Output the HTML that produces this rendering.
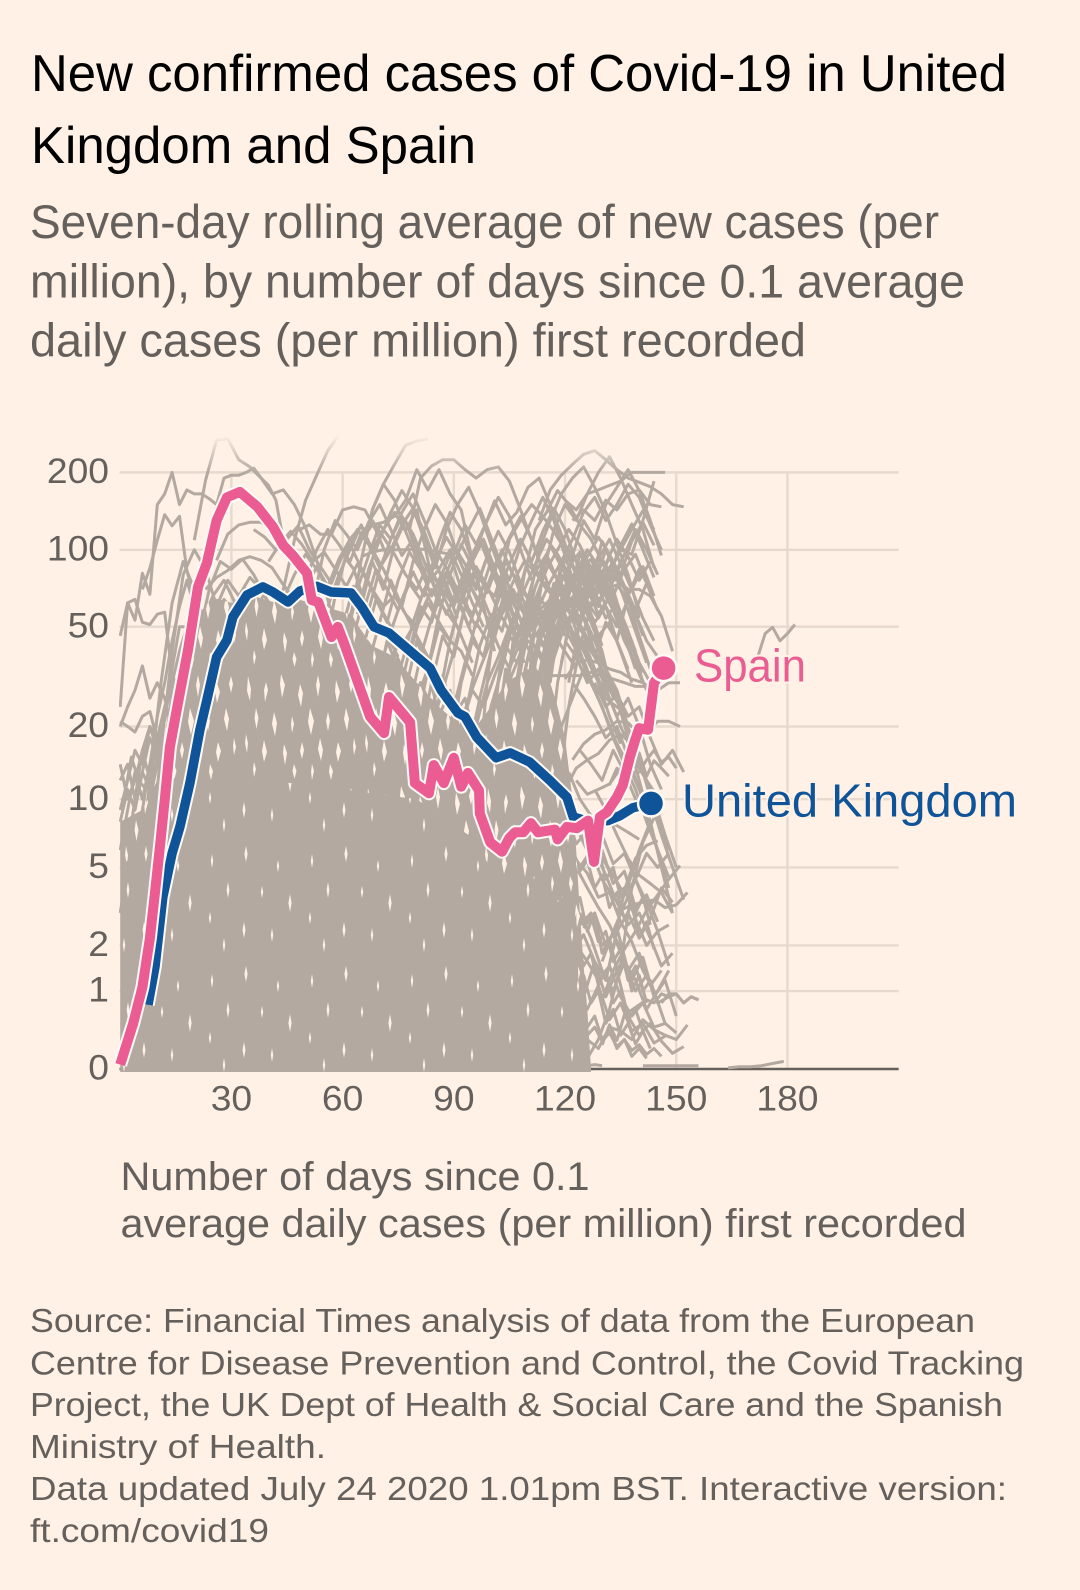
<!DOCTYPE html>
<html lang="en">
<head>
<meta charset="utf-8">
<title>New confirmed cases of Covid-19 in United Kingdom and Spain</title>
<style>
html,body{margin:0;padding:0;background:#fff1e5;}
body{width:1080px;height:1590px;overflow:hidden;}
svg{display:block;font-family:"Liberation Sans",sans-serif;}
.title{font-size:52px;fill:#000;}
.sub{font-size:47px;fill:#66605c;}
.axis-title{font-size:40px;fill:#66605c;}
.foot{font-size:33.5px;fill:#66605c;}
.tick{font-size:35px;fill:#66605c;}
</style>
</head>
<body>
<svg id="chart" xmlns="http://www.w3.org/2000/svg" width="1080" height="1590" viewBox="0 0 1080 1590">
  <defs>
    <pattern id="holes-large" patternUnits="userSpaceOnUse" width="120" height="112">
      <path fill="#fff1e5" d="M8 4l3 13-1 12-3-10z M26 10l2 8-3 12-1-12z M41 2l4 11-3 13-2-14z M60 12l3 9-2 14-3-12z M78 3l2 10-2 12-2-12z M96 8l4 12-3 11-2-12z M111 4l2 8-2 9-2-9z M16 36l2.5 10-2 11-2-11z M34 40l3 11-2 13-3-12z M52 44l2 8-2 9-1-9z M70 36l4 13-3 14-3-13z M88 40l2 9-2 10-2-10z M106 36l3 11-2 12-3-12z M6 62l2 9-1 10-2-10z M24 68l3 12-3 10-2-11z M44 72l3 9-2 12-2-12z M62 70l2 8-2 9-2-8z M80 66l3 12-2 11-3-12z M98 70l3 9-3 11-2-10z M114 66l2 9-2 8-1-9z M14 90l2 7-2 8-1-8z M54 92l2.5 7-2 8-2-8z M72 92l2 7-2 9-1-8z M90 92l3 7-2 9-2-8z"/>
    </pattern>
    <pattern id="holes-small" patternUnits="userSpaceOnUse" width="100" height="120">
      <path fill="#fff1e5" d="M12 14l1.2 7-1.2 7-1.2-7z M46 6l1.6 8-1.6 8-1.6-8z M78 20l1.2 6-1.2 6-1.2-6z M28 42l1.4 8-1.4 8-1.4-8z M62 46l1.2 6-1.2 6-1.2-6z M90 54l1.6 9-1.6 9-1.6-9z M10 72l1.2 6-1.2 6-1.2-6z M44 82l1.5 8-1.5 8-1.5-8z M72 88l1.2 7-1.2 7-1.2-7z M24 98l1.2 7-1.2 7-1.2-7z"/>
    </pattern>
    <linearGradient id="top-fade" x1="0" y1="0" x2="0" y2="1">
      <stop offset="0.1" stop-color="#fff1e5" stop-opacity="1"/>
      <stop offset="1" stop-color="#fff1e5" stop-opacity="0"/>
    </linearGradient>
    <clipPath id="plot-clip"><rect x="119" y="430" width="790" height="645"/></clipPath>
  </defs>

  <rect x="0" y="0" width="1080" height="1590" fill="#fff1e5"/>

  <text class="title" x="31" y="91" textLength="976" lengthAdjust="spacingAndGlyphs">New confirmed cases of Covid-19 in United</text>
  <text class="title" x="31" y="163" textLength="445" lengthAdjust="spacingAndGlyphs">Kingdom and Spain</text>
  <text class="sub" x="30" y="238" textLength="909" lengthAdjust="spacingAndGlyphs">Seven-day rolling average of new cases (per</text>
  <text class="sub" x="30" y="297.5" textLength="935" lengthAdjust="spacingAndGlyphs">million), by number of days since 0.1 average</text>
  <text class="sub" x="30" y="356.5" textLength="776" lengthAdjust="spacingAndGlyphs">daily cases (per million) first recorded</text>

  <g id="grid"></g>
  <g id="ticks"></g>
  <g id="marks" clip-path="url(#plot-clip)"></g>
  <rect x="115" y="430" width="800" height="42" fill="url(#top-fade)"/>
  <g id="highlights"></g>

  <text x="694" y="681.5" font-size="46" fill="#eb5c92" stroke="#fff1e5" stroke-width="4" paint-order="stroke" textLength="112" lengthAdjust="spacingAndGlyphs">Spain</text>
  <text x="682" y="816.5" font-size="46" fill="#0f5499" stroke="#fff1e5" stroke-width="4" paint-order="stroke" textLength="335" lengthAdjust="spacingAndGlyphs">United Kingdom</text>

  <text class="axis-title" x="120.5" y="1190" textLength="469" lengthAdjust="spacingAndGlyphs">Number of days since 0.1</text>
  <text class="axis-title" x="120.5" y="1237" textLength="846" lengthAdjust="spacingAndGlyphs">average daily cases (per million) first recorded</text>

  <text class="foot" x="30" y="1332" textLength="945" lengthAdjust="spacingAndGlyphs">Source: Financial Times analysis of data from the European</text>
  <text class="foot" x="30" y="1374.5" textLength="994" lengthAdjust="spacingAndGlyphs">Centre for Disease Prevention and Control, the Covid Tracking</text>
  <text class="foot" x="30" y="1416" textLength="973" lengthAdjust="spacingAndGlyphs">Project, the UK Dept of Health &amp; Social Care and the Spanish</text>
  <text class="foot" x="30" y="1458" textLength="296" lengthAdjust="spacingAndGlyphs">Ministry of Health.</text>
  <text class="foot" x="30" y="1500" textLength="977" lengthAdjust="spacingAndGlyphs">Data updated July 24 2020 1.01pm BST. Interactive version:</text>
  <text class="foot" x="30" y="1542" textLength="239" lengthAdjust="spacingAndGlyphs">ft.com/covid19</text>
</svg>

<script>
const yTickValues = [200, 100, 50, 20, 10, 5, 2, 1, 0];
const yTickLabels = ['200', '100', '50', '20', '10', '5', '2', '1', '0'];
const xTickValues = [30, 60, 90, 120, 150, 180];
const xTickLabels = ['30', '60', '90', '120', '150', '180'];
const xMaxDay = 210;

const spainDays = [0,3.5,6,8,9.4,10.7,12,13.4,15.6,18.3,21,23.4,26,28.8,32.3,37,41.2,44,46.6,50.4,51.7,53.4,57,58.7,60.4,67.4,71.2,72.5,78.2,79.5,83.3,84.6,87.3,90,92,93.8,96.8,97,99.8,103,105,106.5,108.7,110.8,112.7,117.3,118,120.5,123.2,126.2,127.8,129.4,131.3,134,135.6,137.5,138.9,140,142.4,144,146.6];
const spainValues = [0.04,0.5,1.07,2.2,3.8,6.2,9.9,16.5,24.9,40.4,71.6,88.8,130,160,168,147,123,104,95,81,63.6,62.5,45.5,49.9,43,21.9,18.8,26.3,20.8,11.7,10.6,13.9,11.7,14.9,11.3,12.9,10.9,8.7,6.5,5.9,6.8,7.2,7.2,7.9,7.2,7.4,6.7,7.6,7.5,8.1,5.3,8.4,8.8,10.2,11.5,15,17.6,19.7,19.4,29.9,34.3];
const ukDays = [7.5,9.4,11.5,14,16.1,18.8,21.5,23.4,26,28.8,30.4,34.2,38.5,41.2,45.3,48.5,53,56.9,62.3,65.2,68.5,72.5,83.6,86.6,91.1,93,96.2,101.4,105.2,110.5,115.9,120.5,122.2,126.7,131.6,134.8,138.3,143.2];
const ukValues = [0.77,1.48,3.6,5.8,7.6,11.7,19.4,25.6,37.9,44.3,54.6,66.6,71.6,68.4,62.5,69,72,68.4,67.8,59.7,49.9,47.2,34.3,28,22.7,21.9,18.1,14.9,15.6,14.3,12,10.2,8.4,8,8.1,8.5,9.2,9.6];

const denseSolidDays = [0,5,8,12,20,40,60,80,94,100,106,112,118,121,122,123,123.6,124.5,125,126,127];
const denseSolidValues = [5,6,9,12,12,12,11,10,7,5,3.6,4.5,3.4,4,2.5,3,1.2,1.5,0.5,0.7,0];
const denseWebDays = [0,6,10,12,14,18,20,22,25,30,36,42,48,55,62,68,74,80,86,92,96,100,104,110,116,118,120,122,123,124,125,126,127];
const denseWebValues = [8,9,12,18,30,36,44,58,65,62,66,62,64,60,56,42,38,30,24,20,20,24,30,34,30,24,18,10,6,3,1.5,0.7,0];

const greyLinesStep2 = [
  [0,[24,62,53,81,67,150,165,200,150,171,165,165,158,150,190,195,195,200,208,190,178,156,109]],
  [0,[46,62,64,52,51,56,57,32,28,26,19,15,12]],
  [6,[70,85,109,137,124,135,83,64,40,28]],
  [0,[20,24,28,35,26,30,26,19,15,12]],
  [0,[21,20,19,22,23,17.6,13,10]],
  [12,[21,34,50,50,38,26,16]],
  [172,[38,47,49.7,44,47,51]],
  [146,[0.8,0.95,0.95,0.8,0.9,0.85]],
  [130,[0.24,0.48,0.29,0.62,0.69,0.77,0.85,0.8,0.95,0.9,0.95,0.8,0.9,0.85]],
  [134,[9.9,11.5,13.5,15.6,12.5,14.5,13.5,12.5]],
  [136,[11.5,13,13,14.6,16,14.3,15,13.5]],
  [132,[11.5,13.5,11.5,15,13.5,12,10.8]],
  [0,[12,14,10,16,20,18,24,30,26,18,14]],
  [0,[9,12,16,14,20,16,24,22,28,20,14]],
  [0,[14,10,12,16,12,18,14,20,26,34,24]],
  [2,[6,10,13,18,15,22,30,40,50,38]],
  [4,[5,9,14,22,30,44,60,76,60,42]],
  [124,[0.02,0.03,0.04,0.03]],
  [0,[8,11,9,13,11,15,12,17,21,25,20]],
  [0,[6,9,13,10,14,18,15,13,18]],
  [0,[3,5,8,6,10,14,12,20]],
  [1,[10,15,12,11,16,13,19,17,24]],
  [120,[4,3,3.6,2.4,3,1.8,2.2,1.4,1.7,1,1.3,0.8]],
  [119,[2.4,1.9,2.2,1.5,1.8,1.1,1.4,0.8,1,0.55,0.7,0.4]],
  [121,[1.4,1.1,1.3,0.8,1,0.5,0.7,0.35,0.5,0.25,0.4,0.2]],
  [122,[6,4.8,5.4,4,4.6,3.2,3.8,2.8,3.3,2.2,2.7,1.9]],
  [120,[0.8,0.6,0.75,0.45,0.6,0.3,0.42,0.2,0.3,0.12,0.2,0.1]],
  [123,[3.2,2.6,2.9,2.1,2.4,1.6,1.9,1.2,1.5,1,1.2,0.8]],
  [121,[8,6.4,7,5.4,6,4.4,5,3.6,4.2,3,3.6,2.6]],
  [124,[0.5,0.35,0.45,0.28,0.38,0.22,0.3,0.18,0.24,0.14,0.2,0.12]]
];

const greyLinesStep3 = [
  [20,[109,186,267,270,224,210,190,165,171,150,122,91,64,44,30,20,12]],
  [26,[91,115,125,128,128,119,105,98,83,70,53,37,26]],
  [23,[70,78,83,91,94,91,85,73,64,44,31,20]],
  [35,[26,40,58,70,109,156,195,243,280]],
  [62,[53,91,143,180,215,255,265,270]],
  [78,[119,190,212,224,224,205,190,205,210,185,143,109,83]],
  [65,[109,125,128,135,156,205,171,205,165,143,91,60,40]],
  [65,[94,98,100,100,100,101,100,98,96,70,53]],
  [68,[143,180,156,119,143,91,60]],
  [120,[76,70,80,91,83,100,96,130,185]],
  [113,[130,171,195,215,235,243,224,205,190,183,176,165,150,147]],
  [120,[156,143,165,171,178,185,200,200,200,200]],
  [122,[130,143,130,156,143,165,171,150,147]],
  [110,[53,58,64,70,76,83,87,78,76,70,70,66,55,40]],
  [113,[44,53,64,76,91,83,70,73,64,55]],
  [120,[31,36,37,36,34,33,31,30,28]],
  [115,[32,32,32,32,33,32,31,30,29,29,28,30,30]],
  [125,[37,28,26,24,22]],
  [130,[0.85,1.4,1.9,2.4,3.1,3.7,4.4,5.1]],
  [135,[3.1,3.3,3.4,3.5,3.2,3.3,3.8]],
  [130,[1.6,2.4,3.3,4.4,5.8,5,5.8]],
  [133,[1.9,3.9,5.5,6.3,6.6]],
  [125,[0.9,1.6,1.2,2.4,3,2.2,2.8,4,3.4]],
  [124,[3,2.2,1.4,1,1.6,1.2,0.7,1,1.4]],
  [123,[5,4,3.2,2.6,1.9,1.2,1.7,0.9,1.2,0.6]],
  [120,[6,5.4,4.7,3.6,3.8,2.7,2.1,1.4,1,0.5,0.38]],
  [126,[0.3,0.2,0.45,0.4,0.3,0.55,0.42,0.35,0.3,0.48]],
  [122,[1.8,2.3,1.6,0.9,1.4,0.6,0.35,0.5,0.28,0.15,0.22]],
  [127,[6.5,5.5,4.6,3.7,4.4,3.4,2.4,2.6]],
  [128,[11,9,7,5.5,4.6,4.2,3.8,3]],
  [126,[0.1,0.3,0.7,1.5,4,6.5,8.3]],
  [131,[8.3,7.7,7.2,6.7]],
  [134,[3,4.1,6,8]],
  [120,[11,13.5,14.6,15.5,17.6,18.6,17]],
  [123,[12,10.5,11,11.6,13.5,13.5]],
  [122,[14.6,17,18.6,19.4,21,20.7,18.6]],
  [142,[19,21,21,20]],
  [85,[2,5,9,16,26,40,58,75,90,82,70,64,50,38,30]],
  [88,[1,3,7,14,24,34,52,70,88,110,96,80,64,52,40,26]],
  [92,[1.5,4,9,18,30,46,60,78,70,60,72,55,44,34,26,20]],
  [94,[2,6,14,26,40,52,64,84,100,120,104,85,70,58,46,35]],
  [96,[3,9,20,34,44,58,50,66,80,70,58,46,52,40,30]],
  [90,[5,10,20,30,38,50,62,50,42,52,66,48,38,30,22,17]],
  [98,[1,4,12,24,38,60,75,90,76,64,52,60,44,34]],
  [100,[3,10,24,42,60,50,70,86,98,84,72,58,44,36,28]],
  [102,[2,8,18,36,52,46,64,60,76,64,70,56,42,33]],
  [104,[4,14,30,46,38,58,72,66,88,76,60,44,36,30]],
  [95,[6,12,18,28,36,44,40,34,46,58,48,40,34,28,20]],
  [106,[3,12,28,44,58,70,84,92,72,60,50,38]],
  [108,[5,18,34,52,66,80,94,112,96,78,62,46]],
  [82,[3,6,11,18,26,34,44,56,66,56,46,54,64,52,40,30,24]],
  [86,[8,14,20,28,24,32,42,36,48,58,50,42,36,44,34,26]],
  [110,[6,20,40,58,74,86,68,54,62,48,36]],
  [112,[8,26,46,64,54,70,82,66,52,40]],
  [105,[14,22,34,30,42,52,46,62,54,66,52,44,30]],
  [115,[12,30,50,70,60,76,90,72,56,44,38]],
  [118,[10,24,42,60,74,66,84,96,74,58]],
  [93,[3,10,30,70,110,130,150,135,118,100,80,60,44]],
  [100,[6,18,44,80,120,140,170,150,125,110,90,70,50]],
  [104,[8,30,60,100,130,165,190,210,175,140,105,80,56]],
  [108,[10,40,80,120,150,130,165,200,230,190,150,120,85]],
  [113,[20,50,90,110,140,160,130,150,180,160,125,100]],
  [116,[30,60,95,130,110,150,175,205,170,130,95]],
  [58,[30,48,70,95,125,110,140,165,130,100,85,70,90,110,84,66,50,36]],
  [62,[40,60,90,70,105,130,98,76,108,140,120,90,110,85,60,42]],
  [64,[56,84,110,140,170,145,110,85,120,150,175,140,105,80,56]],
  [66,[44,64,52,76,98,84,66,82,104,88,72,94,78,60,46]],
  [60,[50,72,60,84,70,58,74,64,82,70,60,78,66,54,42,34]],
  [70,[34,48,64,82,66,90,112,95,75,60,78,100,80,62,46]],
  [72,[30,44,38,56,70,60,52,68,86,72,58,48,62,44,36]],
  [75,[26,40,60,52,74,96,125,105,130,160,135,100,76]],
  [78,[24,38,54,80,62,84,70,94,118,98,74,60,48]],
  [80,[20,34,50,44,64,56,72,66,90,76,64,52,40]],
  [83,[14,26,44,66,90,120,155,125,140,175,190,150,115,88,66]],
  [50,[70,86,72,90,105,85,70,60,66,56,50,62,52,44,40,32]],
  [47,[60,76,100,120,105,90,116,130,112,96,80,70,88,72,58,46,36]],
  [44,[64,80,96,84,72,92,110,124,100,84,68,56,46,38,30]],
  [52,[62,100,130,115,100,128,150,120,95,110,90,70,82,66,50,40]],
  [55,[40,66,96,120,105,85,100,125,145,118,90,70,54]],
  [40,[90,105,118,105,90,98,84,72,88,74,60,50,42,50,38,30]],
  [36,[120,112,100,110,124,100,86,74,96,84,62,52,46,38]],
  [48,[119,125,115,115,143,147,143,119,94]],
  [118,[60,46,38,30,24,18,14,11,8,6,4.5]],
  [120,[44,38,30,34,26,20,16,13,9,7]],
  [116,[70,56,48,40,46,34,26,18,12,8,5,3]],
  [122,[30,26,22,18,20,15,11,8,5]],
  [114,[36,48,60,52,44,36,28,24,18,13,10,7,5]],
  [119,[20,26,34,28,22,17,14,11,10,7,5,3.5]],
  [124,[16,14,12,16,13,10,8.5,6,4]],
  [112,[50,60,70,58,50,40,34,28,22,16,12,8,6]],
  [125,[40,32,28,22,26,20,14,11]],
  [128,[30,24,27,22,24,18,14,16,13]],
  [5,[4,12,30,62,90,70,50,36]],
  [8,[5,16,40,80,100,84,60,44,30]],
  [18,[20,44,70,90,84,92,80,66,56]],
  [20,[24,48,60,76,66,78,70,58,50]],
  [16,[14,30,52,66,76,62,70,56,48]],
  [22,[30,54,64,56,70,60,72,62,52]],
  [20,[10,20,36,50,58,44,52,38,46,30,36,26,20,26,16,12]],
  [24,[14,28,44,34,48,30,40,24,32,20,28,18,14]],
  [30,[18,30,24,40,54,36,44,28,34,22,30,18,24,14]],
  [35,[20,40,58,46,34,50,38,26,42,30,20,26,16]],
  [42,[24,36,48,60,44,52,34,40,28,36,22,18]],
  [50,[18,34,52,40,56,46,30,38,26,32,20,16]],
  [60,[12,20,36,28,44,34,24,30,20,18,13]],
  [68,[14,24,40,32,26,34,22,28,18,14]],
  [75,[12,20,30,24,32,22,26,17,20,13]],
  [141,[0.03,0.03,0.03,0.03,0.03,0.03]],
  [164,[0.01,0.02,0.02,0.03,0.05,0.07]],
  [56,[60,80,100,125,100,120,140,118,92,74,84,100,80,62,50]],
  [61,[44,70,58,84,110,135,115,90,70,56,70,88,110,90,70,55]],
  [67,[36,52,76,60,90,120,150,128,96,120,145,112,86,64,48]],
  [73,[24,36,52,70,58,80,64,50,66,90,72,56,44,36]],
  [77,[28,44,34,56,80,105,86,64,50,70,58,46,60,44]],
  [81,[18,30,46,38,60,84,68,90,112,135,110,84,62,46]],
  [84,[20,28,40,60,50,72,94,76,104,130,160,130,95,70]],
  [87,[12,24,36,52,44,68,88,110,90,118,145,120,90,66]],
  [89,[16,30,44,38,58,76,64,92,80,104,86,70,54,40]],
  [91,[18,26,42,56,48,70,58,82,96,76,62,72,56,42]],
  [97,[8,20,38,54,46,72,90,76,100,86,66,78,60,46,34]],
  [99,[12,30,46,40,60,50,74,64,84,70,56,66,50,38,30]],
  [101,[16,34,28,48,66,56,80,70,92,78,60,50,64,46,34]],
  [103,[10,26,44,62,54,78,66,96,82,68,84,64,48,36]],
  [107,[22,38,32,54,72,62,88,74,100,80,66,54]],
  [109,[16,36,56,48,68,84,74,108,90,72,58,74]],
  [111,[30,52,44,66,82,100,86,70,88,70,54,44]],
  [114,[24,44,62,84,70,92,110,88,70,86,66]],
  [117,[40,66,56,78,94,80,104,126,100,78]],
  [119,[36,58,80,68,88,110,94,76,90]],
  [121,[30,52,72,92,78,96,120,100,80]],
  [123,[46,70,60,82,100,120,142,120]],
  [126,[56,74,94,80,108,128,104]],
  [128,[38,52,44,66,84,70]],
  [118,[8,6.5,5,6,4.4,3.6,4,2.8,2,2.4,1.5]],
  [121,[3.4,2.6,3,2,2.3,1.6,1,1.3,0.8,0.9]],
  [120,[2.6,2,1.6,1.2,1.5,0.9,0.6,0.8,0.45,0.5]],
  [122,[9,7.5,6,4.6,3.4,2.6,3,2.2,1.5,1.8]],
  [124,[7,5.5,6,4.2,4.8,3.2,3.7,2.7]],
  [123,[1,0.7,1.1,0.55,0.8,0.4,0.5,0.26,0.34]],
  [125,[2.5,3,2,2.5,1.4,1.8,1.1,1.4]],
  [121,[13,10,8.5,7,5.2,5.8,4.4,3.2,3.6]]
];

const NS = 'http://www.w3.org/2000/svg';
const xDay = d => 120.2 + d * 3.707;
const yVal = v => 1069 - 112.5 * Math.log(1 + v);
const make = (parent, tag, attrs) => {
  const el = document.createElementNS(NS, tag);
  for (const k in attrs) el.setAttribute(k, attrs[k]);
  parent.appendChild(el);
  return el;
};
const pointsOf = (days, values) => days.map((d, i) => xDay(d).toFixed(1) + ',' + yVal(values[i]).toFixed(1)).join(' ');

const grid = document.getElementById('grid');
const ticks = document.getElementById('ticks');
const marks = document.getElementById('marks');
const highlights = document.getElementById('highlights');

yTickValues.forEach((v, i) => {
  if (v !== 0) {
    const line = make(grid, 'line', {x1: 119.5, x2: xDay(xMaxDay), y1: yVal(v), y2: yVal(v), stroke: '#e6d9ce', 'stroke-width': 2.4});
    
    
  }
  const label = make(ticks, 'text', {class: 'tick', x: 109, y: yVal(v) + 10.7, 'text-anchor': 'end', textLength: yTickLabels[i].length * 20.7, lengthAdjust: 'spacingAndGlyphs'});
  label.textContent = yTickLabels[i];
  
  
});

xTickValues.forEach((d, i) => {
  const line = make(grid, 'line', {x1: xDay(d), x2: xDay(d), y1: yVal(200), y2: yVal(0), stroke: '#e6d9ce', 'stroke-width': 2.4});
  
  
  const label = make(ticks, 'text', {class: 'tick', x: xDay(d), y: 1110.7, 'text-anchor': 'middle', textLength: xTickLabels[i].length * 20.7, lengthAdjust: 'spacingAndGlyphs'});
  label.textContent = xTickLabels[i];
  
  
});

const baseline = make(marks, 'line', {x1: 119.5, x2: xDay(xMaxDay), y1: yVal(0), y2: yVal(0), stroke: '#66605c', 'stroke-width': 2.6});



const closedArea = (days, values) => {
  const last = days[days.length - 1];
  return xDay(days[0]).toFixed(1) + ',1072 ' + pointsOf(days, values) + ' ' + xDay(last).toFixed(1) + ',1072';
};

const webMass = make(marks, 'polygon', {points: closedArea(denseWebDays, denseWebValues), fill: '#b3a9a0'});



const drawGrey = (list, step) => {
  list.forEach(entry => {
    const start = entry[0];
    const values = entry[1];
    const days = values.map((_, i) => start + i * step);
    const line = make(marks, 'polyline', {points: pointsOf(days, values), fill: 'none', stroke: '#b3a9a0', 'stroke-width': 3, 'stroke-linejoin': 'round'});
    
    
  });
};
drawGrey(greyLinesStep2, 2);
drawGrey(greyLinesStep3, 3);

const bandPoints = pointsOf(denseWebDays, denseWebValues) + ' ' + pointsOf(denseSolidDays.slice().reverse(), denseSolidValues.slice().reverse());
const upperGaps = make(marks, 'polygon', {points: bandPoints, fill: 'url(#holes-large)'});



const lowerGaps = make(marks, 'polygon', {points: closedArea(denseSolidDays, denseSolidValues), fill: 'url(#holes-small)'});



const drawHighlight = (days, values, color, width, cname, dname) => {
  const pts = pointsOf(days, values);
  const halo = make(highlights, 'polyline', {points: pts, fill: 'none', stroke: '#fffaf6', 'stroke-width': width + 4, 'stroke-linejoin': 'round', 'stroke-linecap': 'butt'});
  
  
  const line = make(highlights, 'polyline', {points: pts, fill: 'none', stroke: color, 'stroke-width': width, 'stroke-linejoin': 'round', 'stroke-linecap': 'butt'});
  
  
  const n = days.length - 1;
  const dot = make(highlights, 'circle', {cx: xDay(days[n]), cy: yVal(values[n]), r: 13, fill: color, stroke: '#fffaf6', 'stroke-width': 2.5});
  
  
};
drawHighlight(ukDays, ukValues, '#0f5499', 9.5, 'united-kingdom', 'united-kingdom-end-dot');
drawHighlight(spainDays, spainValues, '#eb5c92', 10, 'spain', 'spain-end-dot');
</script>
</body>
</html>
